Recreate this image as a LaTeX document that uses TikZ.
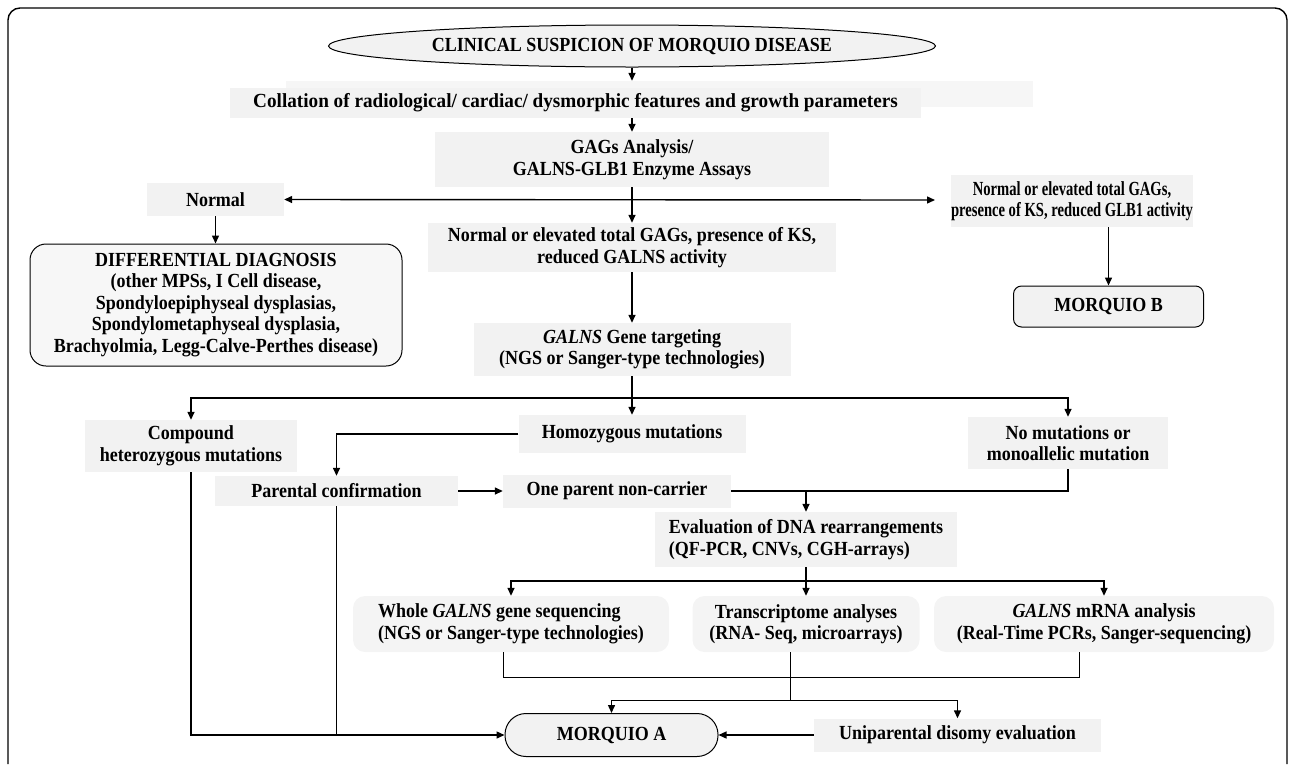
\documentclass[tikz,border=0pt]{standalone}
\usepackage{fontspec}
\setmainfont{Liberation Serif}[FakeStretch=0.9]
\newfontfamily\narrowfont{Liberation Serif}[FakeStretch=0.73]
\newfontfamily\widefont{Liberation Serif}[FakeStretch=0.96]
\usepackage{tikz}
\usetikzlibrary{shapes.geometric,arrows.meta}

\begin{document}
\begin{tikzpicture}[x=1pt,y=-1pt,
    every node/.style={font=\bfseries\fontsize{20}{21.5}\selectfont, inner sep=0pt, align=center},
    box/.style={rectangle, fill=gray!10},
    rbox/.style={rectangle, rounded corners=12pt, fill=gray!9},
    endbox/.style={rectangle, draw, line width=1pt, fill=gray!10},
    link/.style={line width=1.4pt},
    thin link/.style={line width=0.9pt},
    >={Triangle[length=8pt,width=7pt]}]
    \useasboundingbox (0,0) rectangle (1292,764);
    \draw[line width=1.4pt, rounded corners=12pt] (8,764) -- (8,8) -- (1287,8) -- (1287,764);

    \node[ellipse, draw, line width=1pt, fill=gray!10, minimum width=607pt, minimum height=42pt] (susp) at (632,46) {CLINICAL SUSPICION OF MORQUIO DISEASE};

    \node[rectangle, fill=gray!7, minimum width=747pt, minimum height=26pt] (ghost) at (659.5,94) {};
    \node[box, minimum width=691pt, minimum height=30pt] (coll) at (575.5,103) {\widefont Collation of radiological/ cardiac/ dysmorphic features and growth parameters};
    \node[box, minimum width=394pt, minimum height=55pt] (gags) at (632,159.5) {GAGs Analysis/\\GALNS-GLB1 Enzyme Assays};

    \node[box, minimum width=137pt, minimum height=33pt] (normal) at (215.5,199.5) {Normal};
    \node[box, minimum width=240pt, minimum height=52pt, font=\narrowfont\bfseries\fontsize{20}{21.5}\selectfont] (glb) at (1072,201) {Normal or elevated total GAGs,\\presence of KS, reduced GLB1 activity};
    \coordinate (glbtip) at (935,200);

    \node[box, minimum width=408pt, minimum height=49pt] (galnsact) at (632,247.5) {Normal or elevated total GAGs, presence of KS,\\reduced GALNS activity};
    \node[rectangle, rounded corners=16pt, draw, line width=1pt, fill=gray!6, minimum width=372pt, minimum height=122pt] (dd) at (216,305) {DIFFERENTIAL DIAGNOSIS\\(other MPSs, I Cell disease,\\Spondyloepiphyseal dysplasias,\\Spondylometaphyseal dysplasia,\\Brachyolmia, Legg-Calve-Perthes disease)};
    \node[endbox, rounded corners=8pt, minimum width=190pt, minimum height=41pt] (morqb) at (1108.5,306.5) {MORQUIO B};

    \node[box, minimum width=317pt, minimum height=53pt] (gene) at (632,349.5) {\textit{GALNS} Gene targeting\\(NGS or Sanger-type technologies)};
    \coordinate (split) at (632,398);

    \node[box, minimum width=212pt, minimum height=52pt] (comp) at (191,446) {Compound\\heterozygous mutations};
    \node[box, minimum width=227pt, minimum height=38pt] (homo) at (632,434) {Homozygous mutations};
    \node[box, minimum width=200pt, minimum height=52pt] (nomut) at (1068,443) {No mutations or\\monoallelic mutation};

    \node[box, minimum width=243pt, minimum height=30pt] (parent) at (336.5,491) {Parental confirmation};
    \node[box, minimum width=228pt, minimum height=33pt] (onep) at (617,491) {One parent non-carrier};

    \node[box, align=left, minimum width=302pt, minimum height=55pt] (eval) at (806,539.5) {Evaluation of DNA rearrangements\\(QF-PCR, CNVs, CGH-arrays)};
    \coordinate (split2) at (806,581);

    \node[rbox, align=left, minimum width=316pt, minimum height=56pt] (whole) at (511,624) {Whole \textit{GALNS} gene sequencing\\(NGS or Sanger-type technologies)};
    \node[rbox, minimum width=227pt, minimum height=56pt] (trans) at (806,624) {Transcriptome analyses\\(RNA- Seq, microarrays)};
    \node[rbox, minimum width=340pt, minimum height=56pt] (mrna) at (1104,624) {\textit{GALNS} mRNA analysis\\(Real-Time PCRs, Sanger-sequencing)};

    \node[endbox, rounded corners=21pt, minimum width=213pt, minimum height=43pt] (morqa) at (611.5,735) {MORQUIO A};
    \node[box, minimum width=287pt, minimum height=33pt] (unip) at (957.5,735) {Uniparental disomy evaluation};

    % upper part
    \draw[->, link] (susp.south) -- (susp.south |- ghost.north);
    \draw[->, link] (gags.north |- coll.south) -- (gags.north);
    \draw[->, link] (gags.south) -- (galnsact.north);
    \draw[<->, link] (normal.east) -- (glbtip);
    \draw[->, link] (normal.south) -- (normal.south |- dd.north);
    \draw[->, link] (glb.south -| morqb.north) -- (morqb.north);
    \draw[->, link] (galnsact.south) -- (gene.north);

    % mutation analysis
    \draw[->, link] (gene.south) -- (homo.north);
    \draw[->, link] (split) -| (comp.north);
    \draw[->, link] (split) -| (nomut.north);
    \draw[->, link] (homo.west) -| (parent.north);
    \draw[->, link] (parent.east) -- (onep.west);
    \draw[link] (nomut.south) |- (onep.east);
    \draw[->, link] (eval.north |- onep.east) -- (eval.north);

    % rearrangements
    \draw[link] (eval.south) -- (split2);
    \draw[->, link] (split2) -| (whole.north);
    \draw[->, link] (split2) -- (trans.north);
    \draw[->, link] (split2) -| (mrna.north);
    \draw[thin link] ([xshift=-8pt]whole.south) -- ++(0,25) -| ([xshift=-25pt]mrna.south);
    \draw[thin link] ([xshift=-16pt]trans.south) -- ++(0,48) coordinate (split3);
    \draw[->, link] (split3) -| (morqa.north);
    \draw[->, link] (split3) -| (unip.north);

    % diagnosis
    \draw[->, link] (unip.west) -- (morqa.east);
    \draw[->, link] (comp.south) |- (morqa.west);
    \draw[link] (parent.south) -- (parent.south |- morqa.west);
\end{tikzpicture}
\end{document}
